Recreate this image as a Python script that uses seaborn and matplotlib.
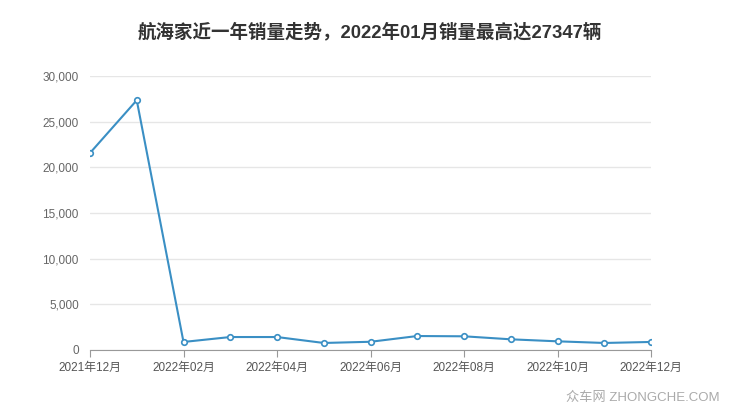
import pandas as pd
import seaborn as sns
import matplotlib.pyplot as plt

# 月份与销量
months = ['2021年12月', '2022年01月', '2022年02月', '2022年03月', '2022年04月',
          '2022年05月', '2022年06月', '2022年07月', '2022年08月', '2022年09月',
          '2022年10月', '2022年11月', '2022年12月']
sales = [21570, 27347, 880, 1420, 1420, 770, 900, 1530, 1500, 1170, 950, 770, 880]
yticks = [0, 5000, 10000, 15000, 20000, 25000, 30000]

df = pd.DataFrame({'idx': range(len(months)), 'mes': months, 'ventas': sales})

sns.set_style('white')
plt.rcParams['font.family'] = ['Liberation Sans', 'Noto Sans CJK SC', 'DejaVu Sans']

fig = plt.figure(figsize=(7.4, 4.17), dpi=100)
ax = fig.add_axes([90 / 740, 1 - 350 / 417, 561 / 740, 274 / 417])

sns.lineplot(data=df, x='idx', y='ventas', ax=ax, color='#3a8fc4', linewidth=1.5,
             marker='o', markersize=4, markerfacecolor='white',
             markeredgecolor='#3a8fc4', markeredgewidth=1.2)

ax.set_xlim(0, len(months) - 1)
ax.set_ylim(0, 30000)
ax.set_yticks(yticks)
ax.set_yticklabels([f'{v:,}' for v in yticks])
ax.set_xticks(range(0, len(months), 2))
ax.set_xticklabels(months[::2])
ax.yaxis.grid(True, color='#e6e6e6', linewidth=1)
ax.set_axisbelow(True)

for s in ['top', 'right', 'left']:
    ax.spines[s].set_visible(False)
ax.spines['bottom'].set_color('#999999')
ax.tick_params(axis='x', colors='#555555', labelsize=8.5, length=5, color='#999999', direction='out', bottom=True)
ax.tick_params(axis='y', colors='#666666', labelsize=8.5, length=0, pad=8)
ax.set_xlabel('')
ax.set_ylabel('')

fig.text(0.5, 1 - 32 / 417, '航海家近一年销量走势，2022年01月销量最高达27347辆',
         ha='center', va='center', fontsize=13.3, fontweight='bold', color='#333333')
fig.text(720 / 740, 1 - 398 / 417, '众车网 ZHONGCHE.COM', ha='right', va='center',
         fontsize=9.5, color='#aaaaaa')

plt.savefig('out.png', dpi=100)
